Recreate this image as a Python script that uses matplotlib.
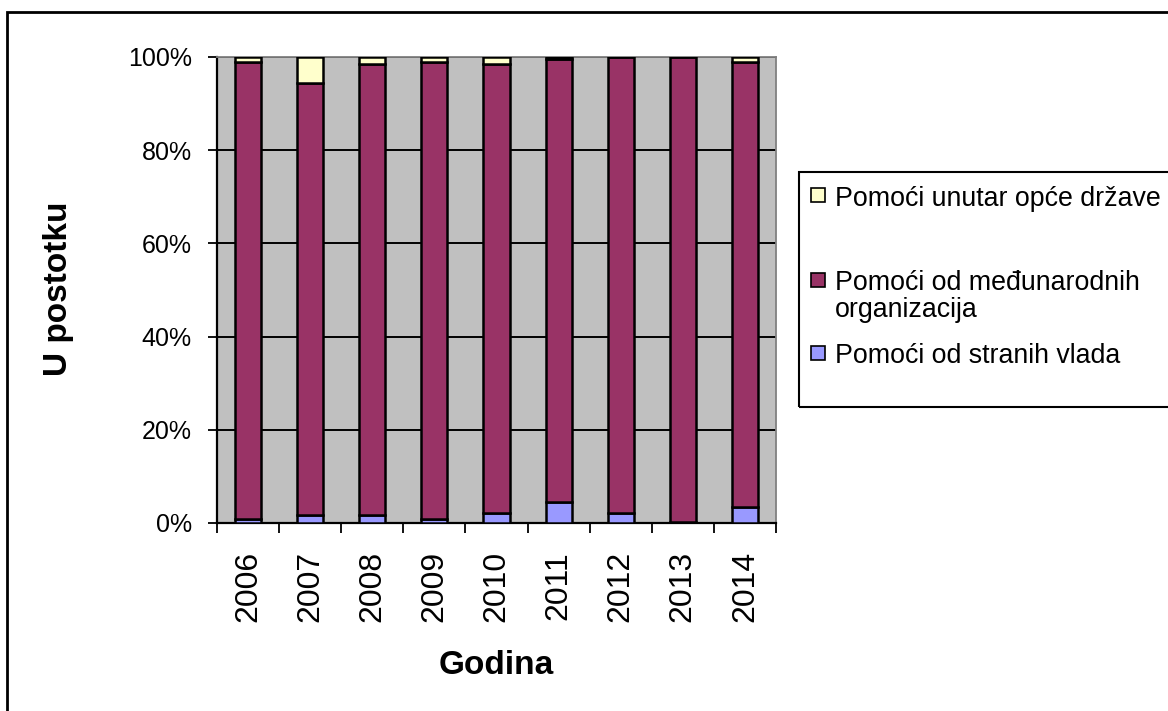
import matplotlib

matplotlib.use("Agg")
import matplotlib.pyplot as plt
import numpy as np
from matplotlib.patches import Rectangle

plt.rcParams["font.family"] = ["Liberation Sans", "DejaVu Sans"]

# -----------------------------
# Data (percent shares)
# -----------------------------
years = ["2006", "2007", "2008", "2009", "2010", "2011", "2012", "2013", "2014"]
strane_vlade = [0.8, 1.8, 1.8, 0.8, 2.1, 4.4, 2.1, 0.2, 3.5]
medunarodne = [98.1, 92.7, 96.7, 98.1, 96.4, 95.2, 97.9, 99.8, 95.4]
unutar_drzave = [1.1, 5.5, 1.5, 1.1, 1.5, 0.4, 0.0, 0.0, 1.1]

labels = [
    "Pomoći od stranih vlada",
    "Pomoći od međunarodnih\norganizacija",
    "Pomoći unutar opće države",
]
colors = ["#9999FF", "#993366", "#FFFFCC"]

W, H = 1168, 711


def fx(px):
    return px / W


def fy(py):
    return 1 - py / H


fig = plt.figure(figsize=(W / 100, H / 100), dpi=100)
ax = fig.add_axes([fx(217), fy(523), fx(776) - fx(217), fy(57) - fy(523)])
ax.set_facecolor("#C0C0C0")

x = np.arange(len(years))
series = [strane_vlade, medunarodne, unutar_drzave]
bottom = np.zeros(len(years))
for vals, col in zip(series, colors):
    vals = np.array(vals)
    ax.bar(x, vals, 0.42, bottom=bottom, color=col, edgecolor="black",
           linewidth=1.8, zorder=3)
    bottom += vals

ax.set_xlim(-0.5, len(years) - 0.5)
ax.set_ylim(0, 100)

# y axis
ax.set_yticks(np.arange(0, 101, 20))
ax.set_yticklabels([f"{v}%" for v in range(0, 101, 20)], fontsize=18)
ax.tick_params(axis="y", direction="out", length=6.5, width=1.3, pad=11.5)
ax.yaxis.grid(True, color="black", linewidth=1.4, zorder=1)

# x axis: tick marks between categories, labels at centers
ax.set_xticks(np.arange(len(years) + 1) - 0.5)
ax.set_xticklabels([])
ax.tick_params(axis="x", which="major", direction="out", length=7, width=1.3)
ax.set_xticks(x, minor=True)
ax.set_xticklabels(years, minor=True, rotation=90, fontsize=23)
ax.tick_params(axis="x", which="minor", length=0, pad=20)

for side in ["left", "bottom"]:
    ax.spines[side].set_color("black")
    ax.spines[side].set_linewidth(1.6)
for side in ["top", "right"]:
    ax.spines[side].set_color("#808080")
    ax.spines[side].set_linewidth(1.3)
ax.set_axisbelow(True)

fig.text(fx(496), fy(665), "Godina", fontsize=24, fontweight="bold",
         ha="center", va="center")
fig.text(fx(59), fy(289), "U postotku", fontsize=24, fontweight="bold",
         rotation=90, ha="center", va="center")

# outer chart border (cut off on right and bottom)
fig.add_artist(Rectangle((fx(7), -0.1), 1.2, fy(12) + 0.1, transform=fig.transFigure,
                         fill=False, edgecolor="black", linewidth=2, clip_on=False))

# legend box (cut off on right)
fig.add_artist(Rectangle((fx(799), fy(407)), 0.5, fy(172) - fy(407),
                         transform=fig.transFigure, fill=False,
                         edgecolor="black", linewidth=1.5, clip_on=False))

legend_rows = [
    (labels[2], colors[2], 195, 206),
    (labels[1], colors[1], 280, 290),
    (labels[0], colors[0], 353, 363),
]
for text, col, hy, base in legend_rows:
    fig.add_artist(Rectangle((fx(811), fy(hy + 7)), fx(14), fy(hy - 7) - fy(hy + 7),
                             transform=fig.transFigure, facecolor=col,
                             edgecolor="black", linewidth=1.2))
    for i, line in enumerate(text.split("\n")):
        fig.text(fx(835), fy(base + 27 * i), line, fontsize=19.3,
                 ha="left", va="baseline")

fig.savefig("out.png", dpi=100)
